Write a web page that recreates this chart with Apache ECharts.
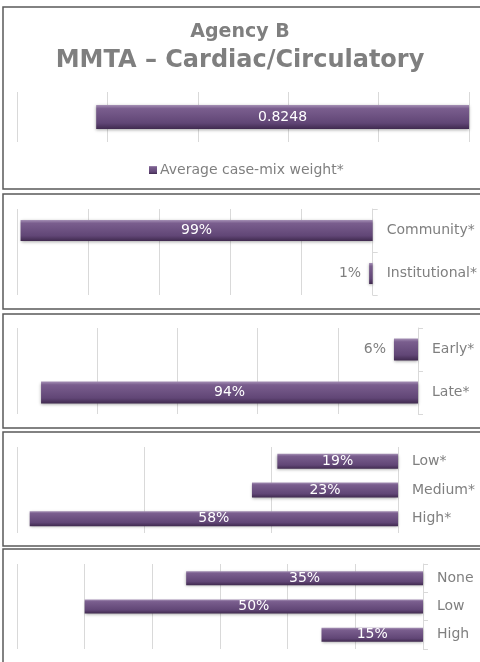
<!DOCTYPE html>
<html lang="en">
  <head>
    <meta charset="UTF-8" />
    <title>Agency B - MMTA Cardiac/Circulatory</title>
    <style>
      html, body { margin: 0; padding: 0; background: #fff; }
      #main { width: 480px; height: 662px; }
    </style>
  </head>
  <body>
    <div id="main"></div>
    <script src="https://cdn.jsdelivr.net/npm/echarts@6/dist/echarts.min.js"></script>
    <script>
      // chart data, one block per panel
      const caseMixName = "Average case-mix weight*";
      const caseMixCats = ["Average"];
      const caseMixVals = [0.8248];

      const settingCats = ["Community*", "Institutional*"];
      const settingVals = [99, 1];

      const timingCats = ["Early*", "Late*"];
      const timingVals = [6, 94];

      const riskCats = ["Low*", "Medium*", "High*"];
      const riskVals = [19, 23, 58];

      const comorbCats = ["None", "Low", "High"];
      const comorbVals = [35, 50, 15];

      const FONT = "DejaVu Sans";
      const GREY = "#7f7f7f";
      const GRIDLINE = "#d9d9d9";

      var myChart = echarts.init(document.getElementById("main"), null, {
        width: 480,
        height: 662,
      });

      const barColor = new echarts.graphic.LinearGradient(0, 0, 0, 1, [
        { offset: 0, color: "#a590b5" },
        { offset: 0.15, color: "#7a5e8e" },
        { offset: 0.75, color: "#614676" },
        { offset: 1, color: "#402a4f" },
      ]);

      // layout of each panel (pixels)
      const panels = [
        { cats: caseMixCats, vals: caseMixVals, name: caseMixName, pct: false,
          top: 92, height: 50, right: 11, max: 1, interval: 0.2, barWidth: 24,
          axis: false, labels: false },
        { cats: settingCats, vals: settingVals, name: "Setting", pct: true,
          top: 209, height: 86, right: 106, max: 100, interval: 20, barWidth: 21,
          axis: true, labels: true },
        { cats: timingCats, vals: timingVals, name: "Timing", pct: true,
          top: 328, height: 86, right: 62, max: 100, interval: 20, barWidth: 22,
          axis: true, labels: true },
        { cats: riskCats, vals: riskVals, name: "Risk", pct: true,
          top: 447, height: 86, right: 82, max: 60, interval: 20, barWidth: 15,
          axis: false, labels: true },
        { cats: comorbCats, vals: comorbVals, name: "Comorbidity", pct: true,
          top: 564, height: 85, right: 57, max: 60, interval: 10, barWidth: 14,
          axis: true, labels: true },
      ];

      const grid = [], xAxis = [], yAxis = [], series = [];
      panels.forEach(function (p, i) {
        grid.push({ left: 17, right: p.right, top: p.top, height: p.height });
        xAxis.push({
          gridIndex: i,
          type: "value",
          inverse: true,
          min: 0,
          max: p.max,
          interval: p.interval,
          axisLabel: { show: false },
          axisLine: { show: false },
          axisTick: { show: false },
          splitLine: { lineStyle: { color: GRIDLINE, width: 1 } },
        });
        yAxis.push({
          gridIndex: i,
          type: "category",
          position: "right",
          inverse: true,
          data: p.cats,
          axisLine: { show: p.axis, lineStyle: { color: GRIDLINE } },
          axisTick: { show: p.axis, length: 5, lineStyle: { color: GRIDLINE } },
          axisLabel: {
            show: p.labels,
            margin: 14,
            color: GREY,
            fontFamily: FONT,
            fontSize: 14,
          },
        });
        series.push({
          name: p.name,
          type: "bar",
          xAxisIndex: i,
          yAxisIndex: i,
          barWidth: p.barWidth,
          itemStyle: {
            color: barColor,
            shadowColor: "rgba(0,0,0,0.35)",
            shadowBlur: 3,
            shadowOffsetY: 1,
          },
          label: {
            show: true,
            position: "inside",
            color: "#fff",
            fontFamily: FONT,
            fontSize: 14,
            formatter: p.pct ? "{c}%" : "{c}",
          },
          data: p.vals.map(function (v) {
            // small bars get the label outside, to the left
            if (p.pct && v < 10) {
              return { value: v, label: { position: "left", color: GREY, distance: 8 } };
            }
            return v;
          }),
        });
      });

      // panel frames
      const frames = [
        [7, 182], [194, 115], [314, 114], [432, 114], [549, 130],
      ].map(function (f) {
        return {
          type: "rect",
          silent: true,
          shape: { x: 3, y: f[0], width: 490, height: f[1] },
          style: { fill: "none", stroke: "#5a5a5a", lineWidth: 1.5 },
        };
      });

      option = {
        animation: false,
        title: [
          {
            text: "Agency B",
            left: "center",
            top: 23,
            padding: 0,
            textStyle: { color: GREY, fontFamily: FONT, fontWeight: "bold", fontSize: 19 },
          },
          {
            text: "MMTA – Cardiac/Circulatory",
            left: "center",
            top: 49,
            padding: 0,
            textStyle: { color: GREY, fontFamily: FONT, fontWeight: "bold", fontSize: 24 },
          },
        ],
        legend: {
          data: [caseMixName],
          left: 149,
          top: 163,
          padding: 0,
          icon: "rect",
          itemWidth: 8,
          itemHeight: 8,
          itemGap: 4,
          textStyle: { color: GREY, fontFamily: FONT, fontSize: 14, padding: [0, 0, 0, -2] },
        },
        graphic: frames,
        grid: grid,
        xAxis: xAxis,
        yAxis: yAxis,
        series: series,
      };

      myChart.setOption(option);
    </script>
  </body>
</html>
